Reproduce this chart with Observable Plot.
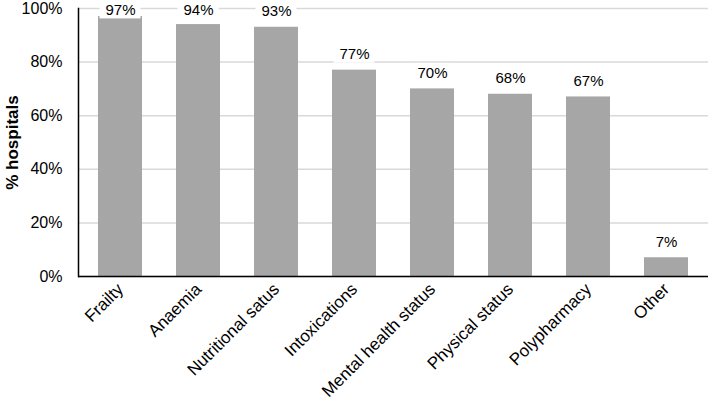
<!DOCTYPE html>
<html><head>
<meta charset="utf-8">
<script src="https://cdn.jsdelivr.net/npm/d3@7"></script>
<script src="https://cdn.jsdelivr.net/npm/@observablehq/plot@0.6"></script>
<style>body{margin:0;background:#fff}</style>
</head><body><div id="chart"></div>
<script>
const categories = ["Frailty", "Anaemia", "Nutritional satus", "Intoxications", "Mental health status", "Physical status", "Polypharmacy", "Other"];
const values = [0.97, 0.94, 0.93, 0.77, 0.70, 0.68, 0.67, 0.07];
const valueLabels = ["97%", "94%", "93%", "77%", "70%", "68%", "67%", "7%"];
const yTicks = [0, 0.2, 0.4, 0.6, 0.8, 1.0];
const yTitle = "% hospitals";

const data = categories.map((c, i) => ({category: c, value: values[i], label: valueLabels[i]}));
// label anchor value, clamped so the top labels stay inside the plot area
const labelY = d => Math.min(d.value, 0.935);

const chart = Plot.plot({
  width: 708, height: 407,
  marginTop: 8, marginBottom: 131, marginLeft: 78, marginRight: 0,
  style: {fontFamily: "'Liberation Sans', Arial, sans-serif", fontSize: "16px", color: "#000", background: "#fff"},
  x: {domain: categories, paddingInner: 0.44, paddingOuter: 0.22, label: null},
  y: {domain: [0, 1], label: null},
  marks: [
    Plot.gridY(yTicks, {stroke: "#d9d9d9", strokeOpacity: 1, strokeWidth: 1.5}),
    Plot.barY(data, {x: "category", y: "value", fill: "#a6a6a6"}),
    Plot.barY(data, {x: "category", y1: labelY, y2: labelY, dy: -16, insetTop: -9.5, insetBottom: -9, insetLeft: 1.5, insetRight: 1.5, fill: "white"}),
    Plot.text(data, {x: "category", y: labelY, text: "label", dy: -16, fontSize: 15, fill: "#000"}),
    Plot.ruleY([0], {stroke: "#000", strokeWidth: 1.5}),
    Plot.frame({anchor: "left", stroke: "#000", strokeWidth: 1.5}),
    Plot.axisY(yTicks, {tickFormat: d3.format(".0%"), tickSize: 0, tickPadding: 16, fontSize: 16, label: null}),
    Plot.axisX({tickRotate: -45, tickSize: 0, tickPadding: 10, fontSize: 17, label: null}),
    Plot.text([yTitle], {frameAnchor: "left", textAnchor: "middle", dx: -66, rotate: -90, fontWeight: "bold", fontSize: 17, fill: "#000"})
  ]
});
document.getElementById("chart").appendChild(chart);
</script>
</body></html>
